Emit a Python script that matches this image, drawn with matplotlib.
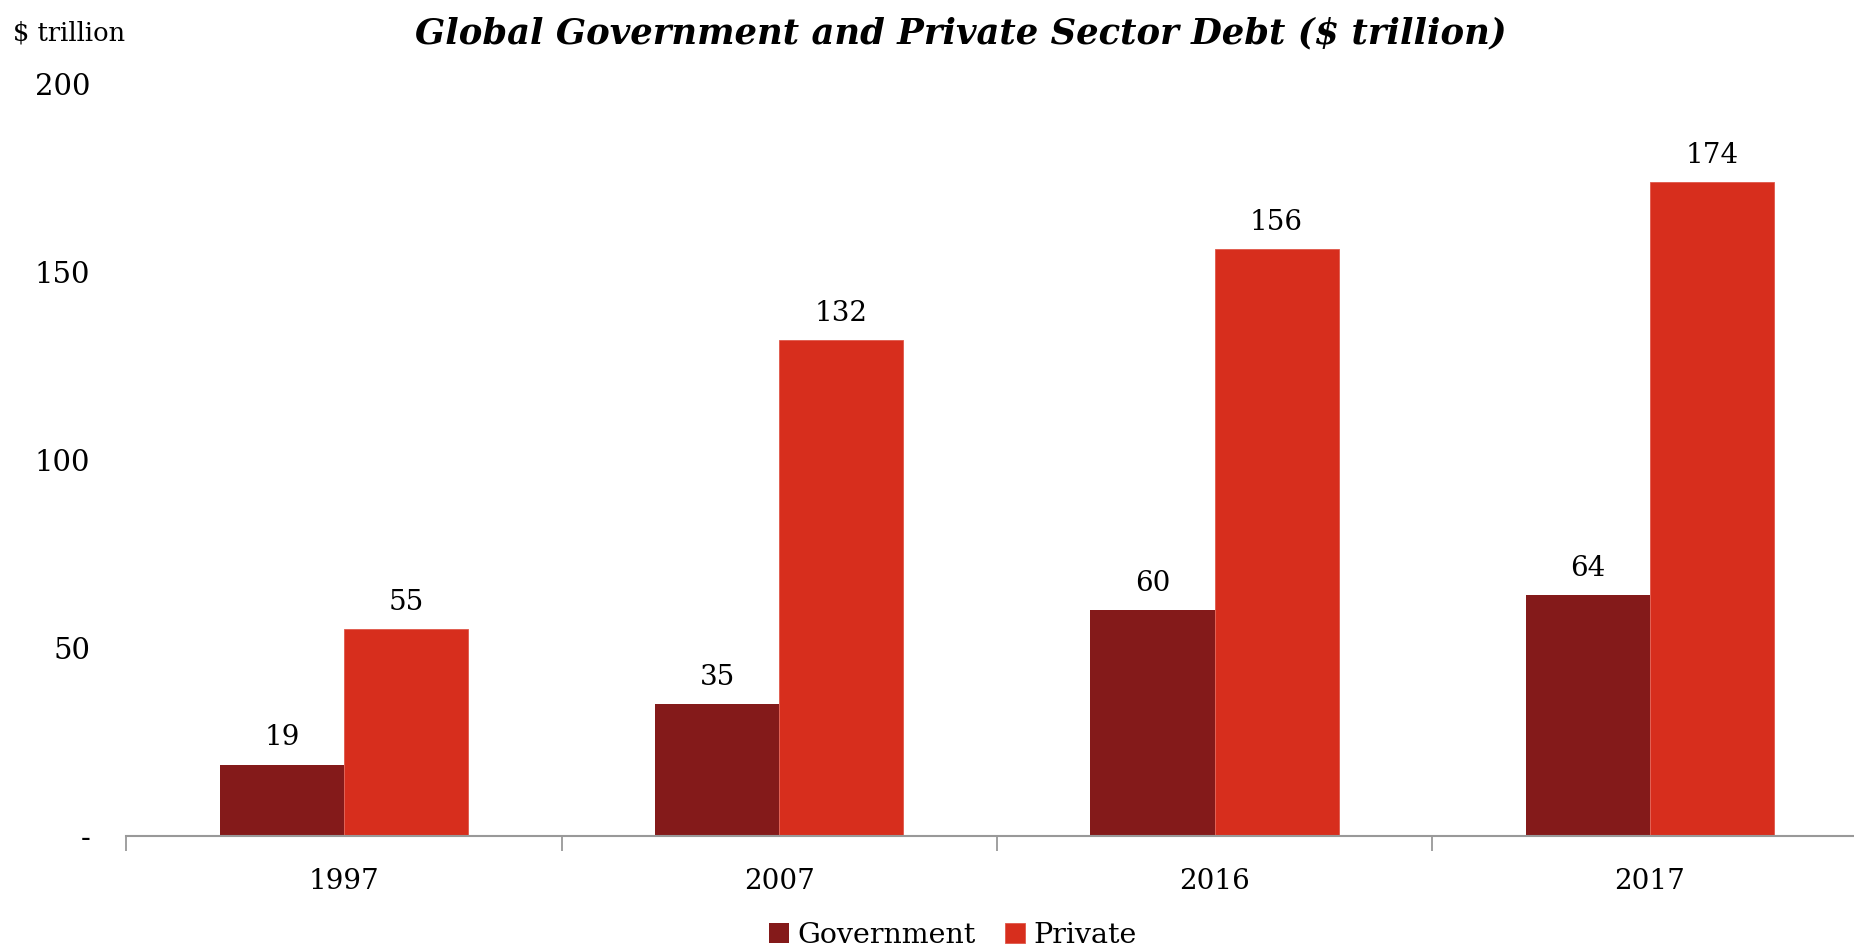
import numpy as np
import matplotlib.pyplot as plt

# Global debt by sector, $ trillion
years = ['1997', '2007', '2016', '2017']
government = [19, 35, 60, 64]
private = [55, 132, 156, 174]
y_ticks = [0, 50, 100, 150, 200]
y_tick_labels = ['-', '50', '100', '150', '200']

plt.rcParams['font.family'] = ['DejaVu Serif']

gov_color = '#841A1A'
priv_color = '#D72E1D'

fig = plt.figure(figsize=(18.54, 9.47), dpi=100)
ax = fig.add_axes([0.0682, 0.1172, 0.939, 0.7941])

x = np.arange(len(years))
w = 0.285
b1 = ax.bar(x - w / 2, government, w, color=gov_color, label='Government')
b2 = ax.bar(x + w / 2, private, w, color=priv_color, edgecolor='#E0574A',
            linewidth=0.6, label='Private')

for bars, vals in [(b1, government), (b2, private)]:
    for rect, v in zip(bars, vals):
        ax.text(rect.get_x() + rect.get_width() / 2, v + 3.5, str(v),
                ha='center', va='bottom', fontsize=20)

ax.set_xlim(-0.5, len(years) - 0.5)
ax.set_ylim(0, 200)
ax.set_yticks(y_ticks)
ax.set_yticklabels(y_tick_labels, fontsize=21)

# category labels sit between boundary tick marks
ax.set_xticks(x)
ax.set_xticklabels(years, fontsize=20)
ax.tick_params(axis='x', length=0, pad=23)
ax.set_xticks(np.arange(len(years) + 1) - 0.5, minor=True)
ax.tick_params(axis='x', which='minor', length=11, width=1.3, color='#999999')
ax.tick_params(axis='y', length=0, pad=26)

for side in ['top', 'right', 'left']:
    ax.spines[side].set_visible(False)
ax.spines['bottom'].set_color('#999999')
ax.spines['bottom'].set_linewidth(1.5)

fig.text(0.5185, 0.965, 'Global Government and Private Sector Debt ($ trillion)',
         ha='center', va='center', fontsize=25.5, fontweight='bold', style='italic')
fig.text(0.007, 0.965, '$ trillion', ha='left', va='center', fontsize=18.5)

fig.legend(handles=[b1, b2], loc='center', bbox_to_anchor=(0.514, 0.012),
           ncol=2, frameon=False, fontsize=20.5, handlelength=0.7,
           handleheight=0.7, handletextpad=0.3, columnspacing=1.05)

fig.savefig('out.png', dpi=100)
